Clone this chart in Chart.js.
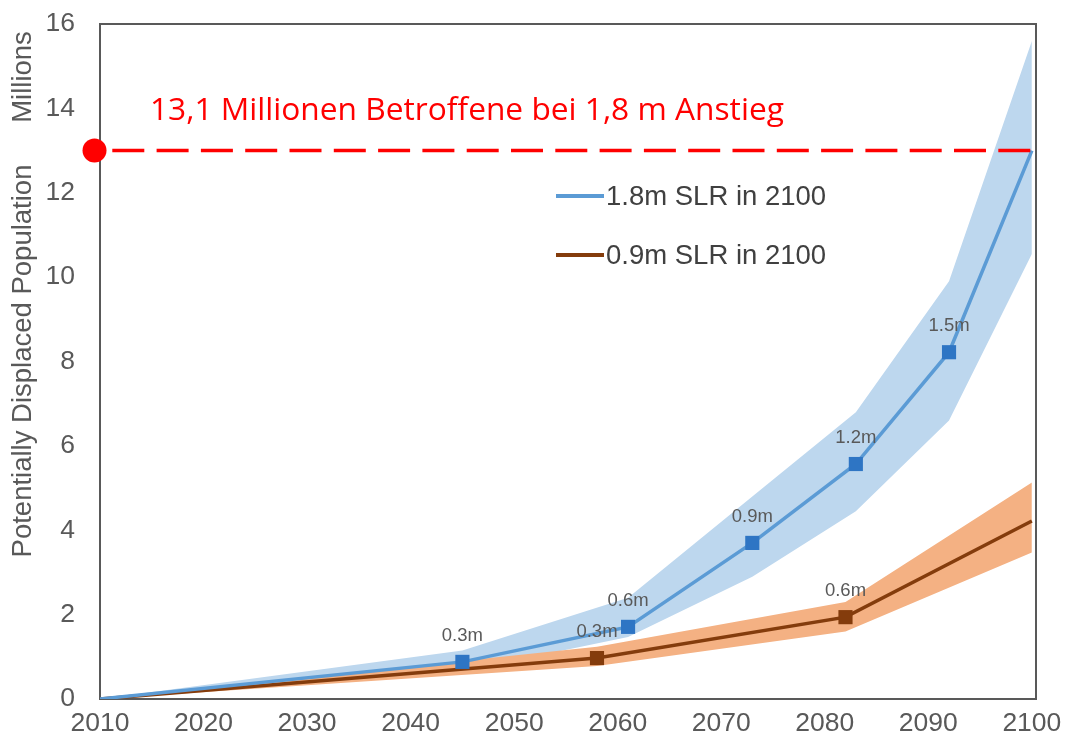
<!DOCTYPE html>
<html>
<head>
<meta charset="utf-8">
<script src="https://cdn.jsdelivr.net/npm/chart.js@4.4.0/dist/chart.umd.min.js"></script>
<style>
  html, body { margin: 0; padding: 0; background: #ffffff; }
  #wrap { width: 1066px; height: 745px; position: relative; }
</style>
</head>
<body>
<div id="wrap"><canvas id="c" width="1066" height="745"></canvas></div>
<script>
// ---- data ----
const xTicks = [2010, 2020, 2030, 2040, 2050, 2060, 2070, 2080, 2090, 2100];
const yTicks = [0, 2, 4, 6, 8, 10, 12, 14, 16];

const years18 = [2010, 2045, 2061, 2073, 2083, 2092, 2100];
const slr18 = [0, 0.88, 1.71, 3.70, 5.57, 8.22, 13.0];
const slr18Upper = [0, 1.15, 2.40, 4.80, 6.80, 9.90, 15.6];
const slr18Lower = [0, 0.66, 1.47, 2.90, 4.45, 6.60, 10.55];
const labels18 = ['', '0.3m', '0.6m', '0.9m', '1.2m', '1.5m', ''];

const years09 = [2010, 2058, 2082, 2100];
const slr09 = [0, 0.97, 1.94, 4.22];
const slr09Upper = [0, 1.24, 2.30, 5.13];
const slr09Lower = [0, 0.78, 1.60, 3.47];
const labels09 = ['', '0.3m', '0.6m', ''];

const thresholdYears = [2010, 2100];
const thresholdValue = 13.0;
const thresholdDot = { x: 2009.47, y: 13.0 };
const thresholdText = '13,1 Millionen Betroffene bei 1,8 m Anstieg';

const legendNames = ['1.8m SLR in 2100', '0.9m SLR in 2100'];
const yTitle = 'Potentially Displaced Population';
const yUnit = 'Millions';

// ---- colours ----
const BLUE_LINE = '#5B9BD5', BLUE_MARK = '#2E75C4', BLUE_BAND = '#BDD7EE';
const BROWN_LINE = '#843C0C', BROWN_BAND = '#F4B183';
const RED = '#FF0000', GREY = '#595959';

const pts = (xs, ys) => xs.map((x, i) => ({ x: x, y: ys[i] }));
const markerRadii = (labels) => labels.map(l => l ? 10 : 0);

const overlay = {
  id: 'overlay',
  beforeDatasetsDraw(chart) {
    const { ctx, chartArea: a } = chart;
    ctx.save();
    ctx.strokeStyle = GREY;
    ctx.lineWidth = 2;
    ctx.strokeRect(a.left, a.top, a.right - a.left, a.bottom - a.top);
    ctx.restore();
  },
  afterDatasetsDraw(chart) {
    const { ctx } = chart;
    ctx.save();
    // point labels
    ctx.font = '18.5px "Liberation Sans", Arial, sans-serif';
    ctx.fillStyle = GREY;
    ctx.textAlign = 'center';
    ctx.textBaseline = 'middle';
    const m18 = chart.getDatasetMeta(2).data;
    labels18.forEach((l, i) => { if (l) ctx.fillText(l, m18[i].x, m18[i].y - 26); });
    const m09 = chart.getDatasetMeta(3).data;
    labels09.forEach((l, i) => { if (l) ctx.fillText(l, m09[i].x, m09[i].y - 26); });

    // threshold text
    ctx.font = '31.7px "Open Sans", sans-serif';
    ctx.fillStyle = RED;
    ctx.textAlign = 'left';
    ctx.fillText(thresholdText, 150, 111);

    // legend
    const legendY = [196, 255];
    const legendCol = [BLUE_LINE, BROWN_LINE];
    ctx.font = '27.5px "Liberation Sans", Arial, sans-serif';
    legendNames.forEach((n, i) => {
      ctx.strokeStyle = legendCol[i];
      ctx.lineWidth = 4;
      ctx.beginPath();
      ctx.moveTo(556, legendY[i]);
      ctx.lineTo(604, legendY[i]);
      ctx.stroke();
      ctx.fillStyle = '#404040';
      ctx.fillText(n, 606, legendY[i] + 1);
    });

    // rotated y titles
    ctx.fillStyle = GREY;
    ctx.font = '27.5px "Liberation Sans", Arial, sans-serif';
    ctx.textAlign = 'center';
    ctx.translate(23, 361);
    ctx.rotate(-Math.PI / 2);
    ctx.fillText(yTitle, 0, 0);
    ctx.rotate(Math.PI / 2);
    ctx.translate(0, 77 - 361);
    ctx.rotate(-Math.PI / 2);
    ctx.fillText(yUnit, 0, 0);
    ctx.restore();
  }
};

const zeroPad = s => { s.paddingLeft = 0; s.paddingRight = 0; s.paddingTop = 0; s.paddingBottom = 0; };

new Chart(document.getElementById('c'), {
  type: 'line',
  data: {
    datasets: [
      { // 0 threshold dashed line
        data: pts(thresholdYears, thresholdYears.map(() => thresholdValue)),
        borderColor: RED, borderWidth: 3.5, borderDash: [32, 12.3], borderDashOffset: 32,
        pointRadius: 0, fill: false
      },
      { // 1 threshold dot
        data: [thresholdDot], showLine: false, clip: false,
        pointRadius: 12, pointBackgroundColor: RED, pointBorderColor: RED, pointBorderWidth: 0
      },
      { // 2 1.8m line
        data: pts(years18, slr18), borderColor: BLUE_LINE, borderWidth: 3.5,
        pointStyle: 'rect', pointRadius: markerRadii(labels18),
        pointBackgroundColor: BLUE_MARK, pointBorderColor: BLUE_MARK, pointBorderWidth: 0, fill: false
      },
      { // 3 0.9m line
        data: pts(years09, slr09), borderColor: BROWN_LINE, borderWidth: 3.5,
        pointStyle: 'rect', pointRadius: markerRadii(labels09),
        pointBackgroundColor: BROWN_LINE, pointBorderColor: BROWN_LINE, pointBorderWidth: 0, fill: false
      },
      { // 4 0.9m band upper
        data: pts(years09, slr09Upper), borderWidth: 0, pointRadius: 0,
        backgroundColor: BROWN_BAND, fill: '+1'
      },
      { // 5 0.9m band lower
        data: pts(years09, slr09Lower), borderWidth: 0, pointRadius: 0, fill: false
      },
      { // 6 1.8m band upper
        data: pts(years18, slr18Upper), borderWidth: 0, pointRadius: 0,
        backgroundColor: BLUE_BAND, fill: '+1'
      },
      { // 7 1.8m band lower
        data: pts(years18, slr18Lower), borderWidth: 0, pointRadius: 0, fill: false
      }
    ]
  },
  options: {
    responsive: false,
    animation: false,
    events: [],
    layout: { padding: { top: 24, right: 30, left: 0, bottom: 0 } },
    elements: { line: { tension: 0 } },
    plugins: {
      legend: { display: false },
      tooltip: { enabled: false },
      filler: { drawTime: 'beforeDatasetsDraw' }
    },
    scales: {
      x: {
        type: 'linear', min: 2010, max: 2100.4,
        afterBuildTicks: s => { s.ticks = xTicks.map(v => ({ value: v })); },
        afterFit: s => { s.height = 46; zeroPad(s); },
        grid: { display: false, drawTicks: false },
        border: { display: false },
        ticks: {
          padding: 9, color: GREY,
          font: { family: '"Liberation Sans", Arial, sans-serif', size: 26.5 },
          callback: v => String(v)
        }
      },
      y: {
        min: 0, max: 16,
        afterBuildTicks: s => { s.ticks = yTicks.map(v => ({ value: v })); },
        afterFit: s => { s.width = 100; zeroPad(s); },
        grid: { display: false, drawTicks: false },
        border: { display: false },
        ticks: {
          padding: 25, color: GREY,
          font: { family: '"Liberation Sans", Arial, sans-serif', size: 26.5 },
          callback: v => String(v)
        }
      }
    }
  },
  plugins: [overlay]
});
</script>
</body>
</html>
